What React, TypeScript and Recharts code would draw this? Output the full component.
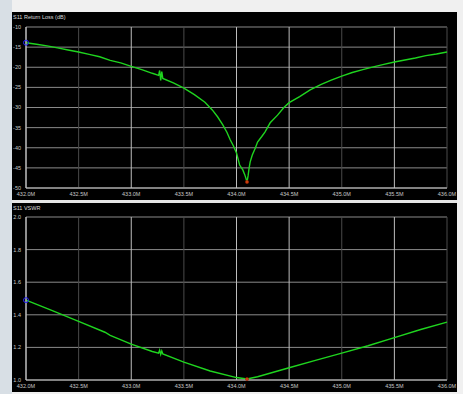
import React from "react";
import { LineChart, Line, XAxis, YAxis, CartesianGrid, ReferenceLine, ReferenceDot } from "recharts";

// ---- data ----
const freqRL = [
  432.0, 432.1, 432.2, 432.3, 432.4, 432.5, 432.6, 432.7, 432.8, 432.9,
  433.0, 433.1, 433.2, 433.26, 433.27, 433.28, 433.29, 433.3, 433.4, 433.5,
  433.6, 433.7, 433.77, 433.82, 433.87, 433.91, 433.94, 433.97, 434.0, 434.03,
  434.06, 434.08, 434.1, 434.11, 434.12, 434.13, 434.15, 434.18, 434.2, 434.24,
  434.27, 434.32, 434.39, 434.45, 434.5, 434.6, 434.7, 434.8, 434.9, 435.0,
  435.1, 435.2, 435.3, 435.4, 435.5, 435.6, 435.7, 435.8, 435.9, 436.0,
];
const returnLoss = [
  -13.9, -14.3, -14.7, -15.2, -15.7, -16.2, -16.8, -17.4, -18.3, -18.9,
  -19.8, -20.6, -21.5, -22.0, -20.8, -23.3, -21.1, -22.8, -23.9, -25.2,
  -26.8, -28.7, -30.6, -32.3, -34.3, -36.2, -38.0, -39.5, -41.3, -44.3,
  -45.5, -46.8, -48.5, -47.0, -45.0, -43.5, -41.8, -40.0, -38.6, -37.2,
  -36.1, -33.8, -31.9, -30.0, -28.8, -27.3, -25.6, -24.3, -23.2, -22.2,
  -21.3, -20.6, -19.9, -19.3, -18.7, -18.2, -17.7, -17.1, -16.7, -16.2,
];

const freqVSWR = [
  432.0, 432.25, 432.5, 432.75, 432.8, 433.0, 433.2, 433.26, 433.27, 433.28,
  433.29, 433.3, 433.5, 433.75, 434.0, 434.1, 434.2, 434.5, 434.75, 435.0,
  435.25, 435.5, 435.75, 436.0,
];
const vswr = [
  1.49, 1.425, 1.36, 1.293, 1.274, 1.22, 1.175, 1.165, 1.183, 1.157,
  1.178, 1.16, 1.11, 1.055, 1.015, 1.006, 1.02, 1.075, 1.12, 1.165,
  1.21, 1.26, 1.31, 1.355,
];

const xTicks = [432.0, 432.5, 433.0, 433.5, 434.0, 434.5, 435.0, 435.5, 436.0];
const rlTicks = [-50, -45, -40, -35, -30, -25, -20, -15, -10];
const vswrTicks = [1.0, 1.2, 1.4, 1.6, 1.8, 2.0];

// ---- styles ----
const vGridStroke = ["#bdbdbd", "#4a4a4a", "#bdbdbd", "#4a4a4a", "#bdbdbd", "#bdbdbd", "#4a4a4a", "#bdbdbd", "#4a4a4a"];
const FONT = "'Liberation Sans', Arial, sans-serif";
const GREEN = "#1fd41f";

const rlData = freqRL.map((f, i) => ({ f, v: returnLoss[i] }));
const vswrData = freqVSWR.map((f, i) => ({ f, v: vswr[i] }));

function minIdx(arr: number[]) {
  let m = 0;
  arr.forEach((v, i) => { if (v < arr[m]) m = i; });
  return m;
}

const tickStyle = { fill: "#c8c8c8", fontSize: 5.5, fontFamily: FONT };

function Panel(props: {
  data: { f: number; v: number }[];
  yTicks: number[];
  yDomain: [number, number];
  yFmt: (v: number) => string;
  height: number;
  top: number;
  minPoint: { f: number; v: number };
}) {
  const { data, yTicks, yDomain, yFmt, height, top, minPoint } = props;
  return (
    <LineChart
      width={445}
      height={height}
      data={data}
      margin={{ top, right: 10, bottom: 0, left: 0 }}
      style={{ background: "#000" }}
    >
      <CartesianGrid horizontal={true} vertical={false} stroke="#8a8a8a" strokeWidth={1} />
      {xTicks.map((t, i) => (
        <ReferenceLine key={t} x={t} stroke={vGridStroke[i]} strokeWidth={1} />
      ))}
      <XAxis
        dataKey="f"
        type="number"
        domain={[432, 436]}
        ticks={xTicks}
        tickFormatter={(v: number) => v.toFixed(1) + "M"}
        tick={tickStyle}
        tickSize={0}
        tickMargin={4}
        height={12}
        axisLine={{ stroke: "#c0c0c0" }}
        interval={0}
      />
      <YAxis
        type="number"
        domain={yDomain}
        ticks={yTicks}
        tickFormatter={yFmt}
        tick={tickStyle}
        tickSize={0}
        tickMargin={5}
        width={14}
        axisLine={{ stroke: "#c0c0c0" }}
        interval={0}
      />
      <Line
        dataKey="v"
        stroke={GREEN}
        strokeWidth={1.4}
        dot={false}
        isAnimationActive={false}
        type="linear"
      />
      <ReferenceDot x={data[0].f} y={data[0].v} r={2.5} fill="none" stroke="#2a2aff" strokeWidth={1} />
      <ReferenceDot x={minPoint.f} y={minPoint.v} r={1.6} fill="#d04010" stroke="#a02000" strokeWidth={0.6} />
    </LineChart>
  );
}

export default function App() {
  const rlMin = rlData[minIdx(returnLoss)];
  const vsMin = vswrData[minIdx(vswr)];
  return (
    <div style={{ position: "absolute", left: 0, top: 0, width: 463, height: 394, background: "#f0f0f0", overflow: "hidden" }}>
      <div style={{ position: "absolute", left: 0, top: 0, width: 12, height: 394, background: "#d8dfe5" }} />
      <div style={{ position: "absolute", left: 12, top: 12, width: 445, height: 188 }}>
        <Panel
          data={rlData}
          yTicks={rlTicks}
          yDomain={[-50, -10]}
          yFmt={(v) => String(v)}
          height={188}
          top={15}
          minPoint={rlMin}
        />
        <div style={{ position: "absolute", left: 1, top: 2, color: "#d8d8d8", fontSize: 5.5, fontFamily: FONT, whiteSpace: "nowrap" }}>
          S11 Return Loss (dB)
        </div>
      </div>
      <div style={{ position: "absolute", left: 12, top: 200, width: 445, height: 3, background: "#e6e6e6" }} />
      <div style={{ position: "absolute", left: 12, top: 203, width: 445, height: 189 }}>
        <Panel
          data={vswrData}
          yTicks={vswrTicks}
          yDomain={[1.0, 2.0]}
          yFmt={(v) => v.toFixed(1)}
          height={189}
          top={14}
          minPoint={vsMin}
        />
        <div style={{ position: "absolute", left: 1, top: 2, color: "#d8d8d8", fontSize: 5.5, fontFamily: FONT, whiteSpace: "nowrap" }}>
          S11 VSWR
        </div>
      </div>
    </div>
  );
}
